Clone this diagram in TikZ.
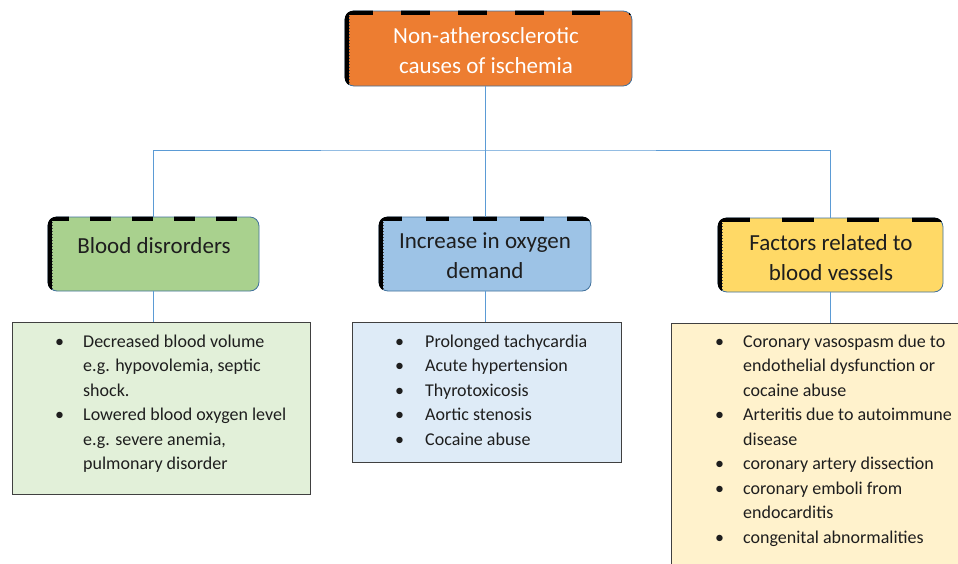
\documentclass[tikz,border=0pt]{standalone}
\usepackage{fontspec}
\setmainfont{Carlito}
\usetikzlibrary{calc}
\definecolor{orangeF}{HTML}{ED7D31}
\definecolor{greenH}{HTML}{A9D18E}
\definecolor{blueH}{HTML}{9DC3E6}
\definecolor{yellowH}{HTML}{FFD966}
\definecolor{greenL}{HTML}{E2F0D9}
\definecolor{blueL}{HTML}{DEEBF7}
\definecolor{yellowL}{HTML}{FFF2CC}
\definecolor{connC}{HTML}{5B9BD5}
\definecolor{hdrline}{HTML}{41719C}
\definecolor{lstline}{HTML}{404040}
\definecolor{textC}{HTML}{1E1E1E}
\tikzset{
  hdr/.style={draw=hdrline, line width=0.8pt, rounded corners=9pt, inner sep=0pt},
  lst/.style={draw=lstline, line width=1.2pt, inner sep=0pt, anchor=north west},
  conn/.style={draw=connC, line width=1pt},
  htext/.style={inner sep=0pt, anchor=base, text=textC, font=\fontsize{23}{30}\selectfont},
  btext/.style={inner sep=0pt, anchor=base west, text=textC, font=\fontsize{18}{24.5}\selectfont},
}
\newcommand\hdrdecor[3]{%
  \begin{scope}
    \clip[rounded corners=9pt] (#1.north west) rectangle (#1.south east);
    \draw[black, line width=8.5pt, dash pattern=on #2 off #3] (#1.north west) -- (#1.north east);
    \draw[black, line width=9pt] (#1.north west) -- (#1.south west);
    \draw[black!70, line width=1.2pt, dash pattern=on 1.2pt off 1.8pt] ([xshift=5pt,yshift=-5.5pt]#1.north west) -- ([xshift=5pt,yshift=3pt]#1.south west);
  \end{scope}}
\begin{document}
\begin{tikzpicture}[x=1pt, y=-1pt]
\useasboundingbox (0,0) rectangle (958,563);
\clip (0,0) rectangle (958,563);
\fill[white] (0,0) rectangle (958,563);

% header boxes
\node[hdr, fill=orangeF, minimum width=287pt, minimum height=75pt] (top) at (488.5,48.5) {};
\node[hdr, fill=greenH, minimum width=211pt, minimum height=74pt] (blood) at (153.5,254) {};
\node[hdr, fill=blueH, minimum width=212pt, minimum height=74pt] (incr) at (485,254) {};
\node[hdr, fill=yellowH, minimum width=225pt, minimum height=74pt] (fact) at (830.5,255) {};
\hdrdecor{top}{28.5pt}{28.3pt}
\hdrdecor{blood}{21pt}{21pt}
\hdrdecor{incr}{23.5pt}{23.7pt}
\hdrdecor{fact}{32pt}{32.7pt}

% list boxes
\node[lst, fill=greenL, minimum width=298pt, minimum height=172pt] (bloodl) at (12,322) {};
\node[lst, fill=blueL, minimum width=269pt, minimum height=140pt] (incrl) at (352,322) {};
\node[lst, fill=yellowL, minimum width=320pt, minimum height=260pt] (factl) at (671,323) {};

% connectors
\coordinate (bus) at (485,150);
\draw[conn] (top.south -| bus) -- (bus);
\draw[conn] (blood.north) |- (bus) -| (fact.north);
\draw[conn] (bus) -- (bus |- incr.north);
\draw[conn] (blood.south) -- (blood.south |- bloodl.north);
\draw[conn] (incr.south -| bus) -- (bus |- incrl.north);
\draw[conn] (fact.south) -- (fact.south |- factl.north);

% header texts
\node[htext, text=white] (toptx) at (486,43) {\begin{tabular}[t]{@{}c@{}}Non-atherosclerotic\\causes of ischemia\end{tabular}};
\node[htext] (bloodtx) at (154,253) {Blood disrorders};
\node[htext] (incrtx) at (485,248) {\begin{tabular}[t]{@{}c@{}}Increase in oxygen\\demand\end{tabular}};
\node[htext] (facttx) at (831,250) {\begin{tabular}[t]{@{}c@{}}Factors related to\\blood vessels\end{tabular}};

% list texts
\node[btext] (bloodlt) at (55,347) {\begin{tabular}[t]{@{}l@{}l@{}}
\makebox[28pt][l]{\textbullet} & Decreased blood volume\\
 & e.g. hypovolemia, septic\\
 & shock.\\
\textbullet & Lowered blood oxygen level\\
 & e.g. severe anemia,\\
 & pulmonary disorder
\end{tabular}};
\node[btext] (incrlt) at (395,347) {\begin{tabular}[t]{@{}l@{}l@{}}
\makebox[30pt][l]{\textbullet} & Prolonged tachycardia\\
\textbullet & Acute hypertension\\
\textbullet & Thyrotoxicosis\\
\textbullet & Aortic stenosis\\
\textbullet & Cocaine abuse
\end{tabular}};
\node[btext] (factlt) at (715,347) {\begin{tabular}[t]{@{}l@{}l@{}}
\makebox[28pt][l]{\textbullet} & Coronary vasospasm due to\\
 & endothelial dysfunction or\\
 & cocaine abuse\\
\textbullet & Arteritis due to autoimmune\\
 & disease\\
\textbullet & coronary artery dissection\\
\textbullet & coronary emboli from\\
 & endocarditis\\
\textbullet & congenital abnormalities
\end{tabular}};
\end{tikzpicture}
\end{document}
